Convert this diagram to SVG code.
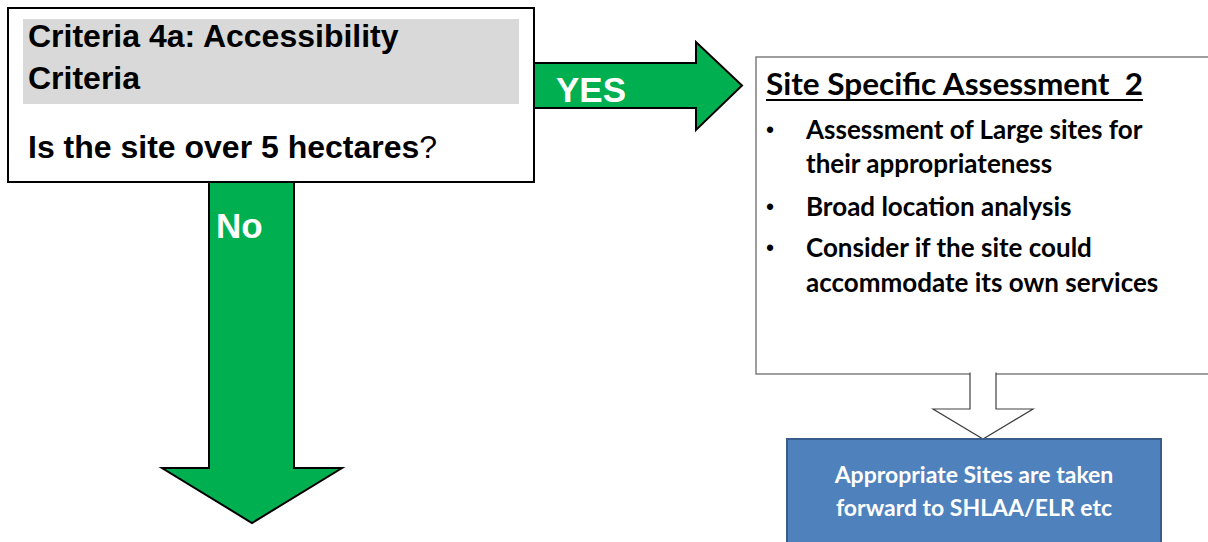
<svg xmlns="http://www.w3.org/2000/svg" width="1208" height="542" viewBox="0 0 1208 542">
<style>
.arial{font-family:"Liberation Sans",Arial,sans-serif;font-weight:bold;}
.cal{font-family:Lato,"Open Sans",sans-serif;font-weight:bold;}
.green{fill:#00b050;stroke:#000;stroke-width:2;stroke-linejoin:miter;}
.lbl{fill:#fff;font-size:35px;}
.rt{fill:#000;font-size:26px;}
.bul{fill:#000;font-size:23px;font-family:"Liberation Sans",Arial,sans-serif;}
.hd{font-size:31px;}
</style>
<rect width="1208" height="542" fill="#fff"/>
<g id="connectors">
  <path class="green" d="M520,63 H696 V42 L742,85.5 L696,130 V108 H520 Z"/>
  <text class="arial lbl" x="556" y="102">YES</text>
  <path class="green" d="M209,170 V468 H162 L252,523 L342,468 H294 V170 Z"/>
  <text class="arial lbl" x="216" y="238">No</text>
</g>
<g id="node-criteria">
  <rect x="8" y="8" width="526" height="174" fill="#fff" stroke="#000" stroke-width="2"/>
  <rect x="23" y="19" width="496" height="85" fill="#d9d9d9"/>
  <text class="arial" font-size="32" x="28" y="47">Criteria 4a: Accessibility</text>
  <text class="arial" font-size="32" x="28" y="89">Criteria</text>
  <text font-size="32" x="28" y="158" style="font-family:'Liberation Sans',Arial,sans-serif"><tspan font-weight="bold">Is the site over 5 hectares</tspan>?</text>
</g>
<g id="node-ssa2">
  <rect x="756" y="57" width="500" height="317" fill="#fff" stroke="#7f7f7f" stroke-width="1.5"/>
  <text class="cal hd" x="766" y="95" xml:space="preserve" textLength="377" lengthAdjust="spacingAndGlyphs">Site Specific Assessment  2</text>
  <line x1="766" y1="100" x2="1143" y2="100" stroke="#000" stroke-width="2"/>
  <g class="bul">
    <text x="766" y="138">•</text>
    <text x="766" y="215">•</text>
    <text x="766" y="256">•</text>
  </g>
  <g class="cal rt">
    <text x="806" y="139">Assessment of Large sites for</text>
    <text x="806" y="173">their appropriateness</text>
    <text x="806" y="216">Broad location analysis</text>
    <text x="806" y="257">Consider if the site could</text>
    <text x="806" y="292">accommodate its own services</text>
  </g>
</g>
<g id="connector-down">
  <path d="M970,372.5 V409 H933 L983,439 L1033,409 H996 V372.5" fill="#fff" stroke="#404040" stroke-width="1.2"/>
</g>
<g id="node-forward">
  <rect x="787" y="439" width="374" height="110" fill="#4f81bd" stroke="#385d8a" stroke-width="2"/>
  <text class="cal" font-size="23" fill="#fff" text-anchor="middle" x="974" y="483">Appropriate Sites are taken</text>
  <text class="cal" font-size="23" fill="#fff" text-anchor="middle" x="974" y="516">forward to SHLAA/ELR etc</text>
</g>
</svg>
